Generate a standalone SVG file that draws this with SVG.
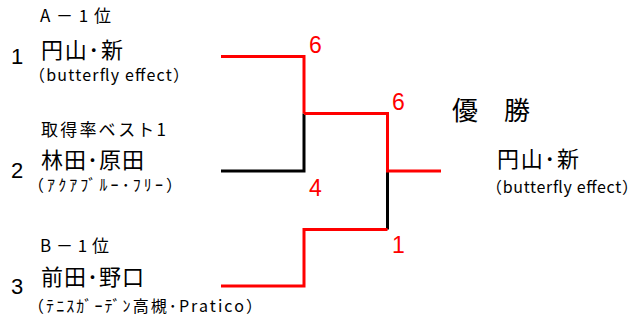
<svg xmlns="http://www.w3.org/2000/svg" width="640" height="325" viewBox="0 0 640 325">
<style>
.jp{font-family:"Noto Sans CJK JP","Noto Sans",sans-serif;fill:#000}
.lbl{font-size:17px}
.nm{font-size:22px}
.sub{font-size:16px}
.seed{font-family:"Liberation Sans",Arial,sans-serif;font-size:22px;fill:#000}
.sc{font-family:"Liberation Sans",Arial,sans-serif;font-size:23px;fill:#ff0000}
.win{stroke:#ff0000;stroke-width:3;fill:none}
.lose{stroke:#000;stroke-width:3;fill:none}
</style>
<rect width="640" height="325" fill="#fff"/>
<g id="connectors">
<path class="lose" d="M304,113.5 V171 H221"/>
<path class="lose" d="M387.5,171 V229.5"/>
<path class="win" d="M221,56.5 H304 V113.5"/>
<path class="win" d="M304,113.5 H387.5 V171 H441"/>
<path class="win" d="M387.5,229.5 H304 V286 H221"/>
</g>
<g id="entry1">
<text class="jp lbl" x="40" y="22" textLength="71" lengthAdjust="spacing">A－1位</text>
<text class="seed" x="11" y="64">1</text>
<text class="jp nm" x="41" y="57.5" textLength="82" lengthAdjust="spacing">円山･新</text>
<text class="jp sub" x="29" y="81" textLength="160" lengthAdjust="spacing">（butterfly effect）</text>
</g>
<g id="entry2">
<text class="jp lbl" x="41" y="136" textLength="125" lengthAdjust="spacing">取得率ベスト1</text>
<text class="seed" x="11" y="178">2</text>
<text class="jp nm" x="41" y="168" textLength="103" lengthAdjust="spacing">林田･原田</text>
<text class="jp sub" x="28" y="191" textLength="154" lengthAdjust="spacing">（ｱｸｱﾌﾞﾙｰ･ﾌﾘｰ）</text>
</g>
<g id="entry3">
<text class="jp lbl" x="40" y="252" textLength="69" lengthAdjust="spacing">B－1位</text>
<text class="seed" x="11" y="294">3</text>
<text class="jp nm" x="41" y="285" textLength="103" lengthAdjust="spacing">前田･野口</text>
<text class="jp sub" x="28" y="312" textLength="234" lengthAdjust="spacing">（ﾃﾆｽｶﾞｰﾃﾞﾝ高槻･Pratico）</text>
</g>
<g id="scores">
<text class="sc" x="309" y="53">6</text>
<text class="sc" x="392" y="110">6</text>
<text class="sc" x="309" y="196">4</text>
<text class="sc" x="392" y="253">1</text>
</g>
<g id="champion">
<text class="jp" x="452" y="120" font-size="26">優　勝</text>
<text class="jp nm" x="497" y="167" textLength="82" lengthAdjust="spacing">円山･新</text>
<text class="jp sub" x="486" y="193" textLength="152" lengthAdjust="spacing">（butterfly effect）</text>
</g>
</svg>
